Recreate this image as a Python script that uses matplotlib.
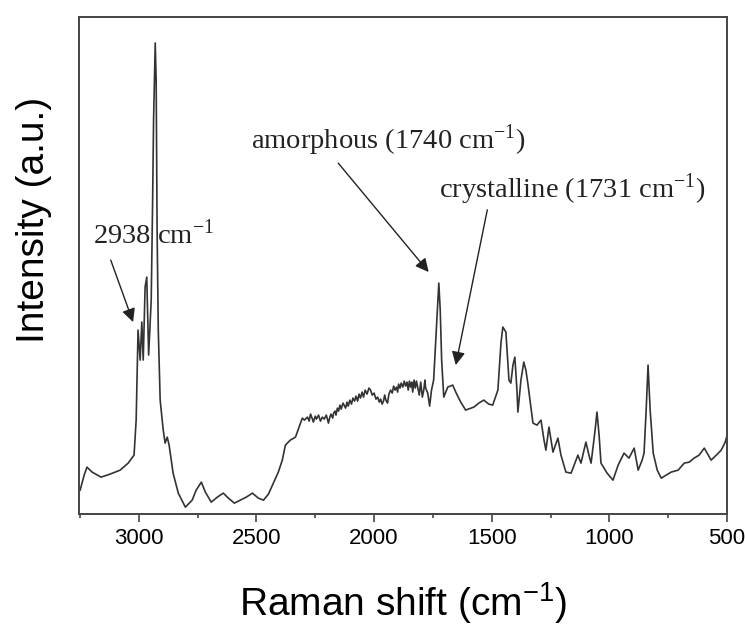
import matplotlib
matplotlib.use('Agg')
import matplotlib.pyplot as plt

plt.rcParams['font.family'] = ['Liberation Sans', 'DejaVu Sans']
plt.rcParams['mathtext.fontset'] = 'custom'
plt.rcParams['mathtext.rm'] = 'Liberation Sans'
plt.rcParams['mathtext.it'] = 'Liberation Sans:italic'

# Raman spectrum (wavenumber in cm-1, intensity in a.u.)
raman_shift = [
    3249, 3232, 3220, 3198, 3160, 3122, 3079, 3045, 3020, 3011,
    3003, 2994, 2987, 2981, 2973, 2966, 2958, 2947, 2941, 2937,
    2930, 2926, 2922, 2917, 2909, 2896, 2888, 2879, 2871, 2854,
    2832, 2802, 2773, 2756, 2734, 2717, 2692, 2666, 2641, 2619,
    2594, 2568, 2543, 2517, 2492, 2470, 2449, 2428, 2407, 2390,
    2377, 2356, 2334,
    2313, 2305, 2296, 2283, 2276, 2270, 2262, 2258, 2250, 2245,
    2236, 2228, 2220, 2212, 2203, 2194, 2188, 2183, 2176, 2172,
    2166, 2162, 2156, 2151, 2145, 2140, 2132, 2121, 2115, 2110,
    2103, 2096, 2090, 2083, 2077, 2070, 2064, 2058, 2051, 2045,
    2038, 2030, 2022, 2015, 2008, 2000, 1992, 1985, 1978, 1972,
    1966, 1960, 1955, 1950, 1943, 1937, 1930, 1923, 1917, 1911,
    1905, 1900, 1896, 1890, 1885, 1878, 1872, 1866, 1860, 1855,
    1850, 1845, 1840, 1836, 1830, 1825, 1820, 1815, 1808, 1802,
    1795, 1789, 1784, 1781, 1772, 1764, 1756, 1747,
    1738, 1730, 1725, 1719, 1713, 1704, 1687, 1666, 1653, 1632,
    1611, 1576, 1555, 1534, 1513, 1496, 1474, 1461, 1453, 1440,
    1427, 1419, 1410, 1402, 1393, 1389, 1376, 1364, 1355, 1347,
    1325, 1308, 1291, 1278, 1270, 1257, 1240, 1219, 1206, 1185,
    1163, 1134, 1121, 1100, 1087, 1078, 1061, 1053, 1044, 1036,
    1010, 985, 963, 938, 917, 895, 878, 861, 853, 844,
    836, 827, 814, 797, 780, 759, 738, 708, 682, 661,
    640, 619, 597, 580, 568, 546, 525, 508, 500,
]
intensity = [
    24, 39, 47, 42, 37, 40, 44, 51, 59, 94,
    184, 154, 192, 154, 227, 237, 159, 214, 314, 394,
    471, 434, 284, 184, 114, 84, 71, 77, 69, 41,
    21, 7, 14, 24, 32, 22, 12, 17, 21, 16,
    11, 14, 17, 21, 16, 14, 20, 31, 42, 54,
    69, 74, 77,
    91, 96, 94, 97, 93, 100, 95, 92, 98, 95,
    99, 93, 97, 95, 99, 91, 97, 100, 96, 101,
    103, 99, 106, 103, 109, 105, 111, 106, 112, 108,
    114, 110, 116, 113, 118, 113, 120, 116, 122, 117,
    124, 120, 126, 124, 119, 121, 115, 117, 112, 115,
    110, 113, 119, 114, 111, 120, 124, 121, 128, 124,
    127, 122, 130, 126, 131, 127, 133, 128, 132, 124,
    133, 127, 132, 122, 134, 126, 133, 127, 119, 132,
    117, 124, 134, 126, 121, 108, 124, 134,
    174, 209, 231, 204, 154, 117, 127, 129, 122, 112,
    104, 107, 111, 114, 110, 109, 124, 171, 187, 182,
    134, 131, 149, 157, 124, 102, 134, 152, 144, 131,
    91, 89, 94, 74, 64, 87, 62, 76, 59, 42,
    41, 59, 51, 72, 59, 51, 84, 102, 79, 51,
    41, 34, 49, 61, 56, 66, 44, 54, 61, 104,
    149, 104, 61, 44, 36, 39, 42, 44, 51, 52,
    56, 59, 66, 59, 54, 59, 64, 72, 79,
]

x_ticks = [3000, 2500, 2000, 1500, 1000, 500]
x_minor = [3250, 2750, 2250, 1750, 1250, 750]

fig = plt.figure(figsize=(7.45, 6.27), dpi=100)
ax = fig.add_axes([0.106, 0.180, 0.870, 0.793])

ax.plot(raman_shift, intensity, color='#333333', lw=1.2)

ax.set_xlim(3254, 500)
ax.set_ylim(0, 497)
ax.set_xticks(x_ticks)
ax.set_xticks(x_minor, minor=True)
ax.set_xticklabels([str(t) for t in x_ticks])
ax.set_yticks([])
ax.tick_params(axis='x', which='major', direction='out', length=6, width=1.2,
               labelsize=16, pad=4, color='#444444')
ax.tick_params(axis='x', which='minor', direction='out', length=3, width=1.2,
               color='#444444')
for s in ax.spines.values():
    s.set_color('#444444')
    s.set_linewidth(1.4)

fig.text(0.541, 1 - 616 / 627, r'Raman shift (cm$^{-1}$)', ha='center',
         va='baseline', fontsize=28)
fig.text(0.046, 0.649, 'Intensity (a.u.)', rotation=90, ha='center',
         va='center', fontsize=28)

serif = ['Liberation Serif', 'DejaVu Serif']
arrow = dict(arrowstyle='-|>', color='#222222', lw=1.0, mutation_scale=20,
             shrinkA=0, shrinkB=0)

ax.text(0.022, 0.545, r'2938 cm$^{\mathregular{-1}}$', transform=ax.transAxes,
        family=serif, fontsize=20.5, color='#222222', va='baseline')
ax.annotate('', xy=(3024, 192), xycoords='data', xytext=(0.049, 0.511),
            textcoords='axes fraction', arrowprops=arrow)

ax.text(0.265, 0.736, r'amorphous (1740 cm$^{\mathregular{-1}}$)',
        transform=ax.transAxes, family=serif, fontsize=20.5, color='#222222',
        va='baseline')
ax.annotate('', xy=(1768, 242), xycoords='data', xytext=(0.400, 0.706),
            textcoords='axes fraction', arrowprops=arrow)

ax.text(0.556, 0.636, r'crystalline (1731 cm$^{\mathregular{-1}}$)',
        transform=ax.transAxes, family=serif, fontsize=20.5, color='#222222',
        va='baseline')
ax.annotate('', xy=(1653, 149), xycoords='data', xytext=(0.630, 0.612),
            textcoords='axes fraction', arrowprops=arrow)

fig.savefig('out.png', dpi=100)
